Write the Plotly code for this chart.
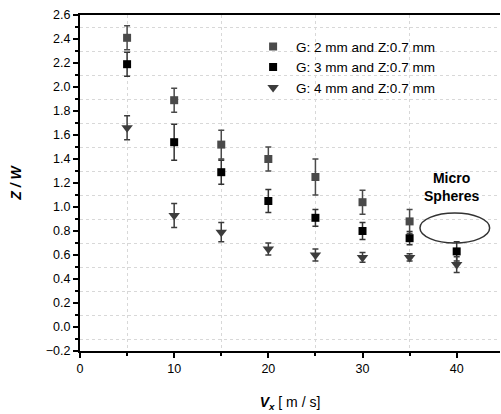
import plotly.graph_objects as go

vx = [5, 10, 15, 20, 25, 30, 35, 40]

g2_vals = [2.41, 1.89, 1.52, 1.40, 1.25, 1.04, 0.88]
g2_err = [0.10, 0.10, 0.12, 0.10, 0.15, 0.10, 0.10]

g3_vals = [2.19, 1.54, 1.29, 1.05, 0.91, 0.80, 0.74, 0.63]
g3_err = [0.10, 0.15, 0.10, 0.095, 0.07, 0.07, 0.055, 0.08]

g4_vals = [1.66, 0.93, 0.79, 0.65, 0.60, 0.58, 0.58, 0.52]
g4_err = [0.10, 0.10, 0.08, 0.05, 0.05, 0.04, 0.03, 0.065]

names = ["G: 2 mm and Z:0.7 mm", "G: 3 mm and Z:0.7 mm", "G: 4 mm and Z:0.7 mm"]

FONT = "Liberation Sans, Arial, sans-serif"

fig = go.Figure()
fig.add_trace(go.Scatter(
    x=vx[:len(g2_vals)], y=g2_vals, mode="markers", name=names[0],
    marker=dict(symbol="square", size=8, color="#4a4a4a"),
    error_y=dict(type="data", array=g2_err, color="#4a4a4a", thickness=1.5, width=3),
))
fig.add_trace(go.Scatter(
    x=vx, y=g3_vals, mode="markers", name=names[1],
    marker=dict(symbol="square", size=8, color="#000000"),
    error_y=dict(type="data", array=g3_err, color="#333333", thickness=1.5, width=3),
))
fig.add_trace(go.Scatter(
    x=vx, y=g4_vals, mode="markers", name=names[2],
    marker=dict(symbol="triangle-down", size=10, color="#3c3c3c"),
    error_y=dict(type="data", array=g4_err, color="#3c3c3c", thickness=1.5, width=3),
))

fig.add_shape(type="circle", xref="x", yref="y", x0=36.1, x1=43.5, y0=0.70, y1=0.95,
              line=dict(color="#333333", width=1.5))
fig.add_annotation(x=39.4, y=1.165, xref="x", yref="y", text="<b>Micro<br>Spheres</b>",
                   showarrow=False, font=dict(family=FONT, size=14, color="#000"),
                   align="center")

fig.update_layout(
    width=501, height=414,
    margin=dict(l=80, r=1, t=15, b=63, autoexpand=False),
    paper_bgcolor="white", plot_bgcolor="white",
    font=dict(family=FONT, size=12, color="#000"),
    legend=dict(x=0.405, y=0.952, xanchor="left", yanchor="top", bgcolor="rgba(0,0,0,0)",
                font=dict(family=FONT, size=13.5, color="#000"), itemwidth=36,
                tracegroupgap=0),
    showlegend=True,
)
fig.update_xaxes(
    range=[0, 44.6], tickmode="linear", tick0=0, dtick=10, automargin=False,
    showline=True, linecolor="#000", linewidth=2, mirror=True,
    ticks="outside", ticklen=5, tickwidth=2, tickcolor="#000",
    showgrid=False, zeroline=False,
    minor=dict(dtick=5, tick0=0, ticks="outside", ticklen=3, tickwidth=1.5, tickcolor="#000",
               showgrid=True, gridcolor="#d8d8d8", griddash="dot", gridwidth=1),
    title=dict(text="<b><i>V</i></b><sub><b><i>x</i></b></sub> [ m / s]",
               font=dict(family=FONT, size=14, color="#000"), standoff=22),
    tickfont=dict(family=FONT, size=12.5, color="#000"),
)
fig.update_yaxes(
    range=[-0.2, 2.6], tickmode="linear", tick0=0, dtick=0.2, tickformat=".1f", automargin=False,
    showline=True, linecolor="#000", linewidth=2, mirror=False,
    ticks="outside", ticklen=5, tickwidth=2, tickcolor="#000",
    showgrid=False, zeroline=False,
    minor=dict(dtick=0.1, tick0=0, ticks="outside", ticklen=3, tickwidth=1.5, tickcolor="#000",
               showgrid=True, gridcolor="#d8d8d8", griddash="dot", gridwidth=1),
    title=dict(text="<b><i>Z / W</i></b>", font=dict(family=FONT, size=14, color="#000"),
               standoff=21),
    tickfont=dict(family=FONT, size=12.5, color="#000"),
)

fig.write_html(
    "out.html",
    config={"displayModeBar": False},
    post_script="document.body.style.margin='0';document.body.style.padding='0';",
)
